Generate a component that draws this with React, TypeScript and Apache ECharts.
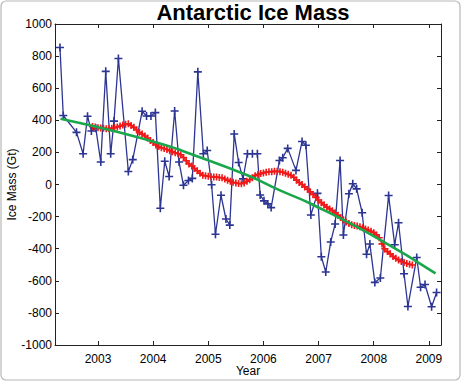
import React, { useEffect, useRef } from "react";
import * as echarts from "echarts";

const TITLE = "Antarctic Ice Mass";
const X_NAME = "Year";
const Y_NAME = "Ice Mass (Gt)";
const X_TICKS = [2003, 2004, 2005, 2006, 2007, 2008, 2009];

// GRACE monthly estimates (blue)
const blueYears = [
  2002.31, 2002.37, 2002.61, 2002.73, 2002.81, 2002.88, 2002.96, 2003.05, 2003.14, 2003.23,
  2003.29, 2003.37, 2003.55, 2003.63, 2003.80, 2003.88, 2003.96, 2004.04, 2004.13, 2004.21,
  2004.29, 2004.39, 2004.47, 2004.55, 2004.64, 2004.71, 2004.81, 2004.91, 2004.98, 2005.06,
  2005.13, 2005.23, 2005.32, 2005.39, 2005.47, 2005.55, 2005.63, 2005.71, 2005.80, 2005.89,
  2005.94, 2006.01, 2006.08, 2006.14, 2006.29, 2006.35, 2006.44, 2006.59, 2006.70, 2006.77,
  2006.86, 2006.98, 2007.05, 2007.13, 2007.22, 2007.30, 2007.39, 2007.45, 2007.55, 2007.62,
  2007.69, 2007.79, 2007.87, 2007.93, 2008.02, 2008.12, 2008.27, 2008.38, 2008.45, 2008.55,
  2008.62, 2008.78, 2008.85, 2008.93, 2009.05, 2009.14,
];
const blueMass = [
  854, 430, 325, 192, 425, 333, 350, 140, 705, 192,
  395, 785, 81, 155, 456, 427, 427, 448, -148, 145,
  50, 458, 140, -5, 25, 38, 702, 192, 212, -2,
  -310, -67, -215, -253, 315, 137, 35, 192, 192, 192,
  -65, -102, -121, -144, 150, 167, 225, 88, 268, 245,
  -190, -55, -450, -545, -358, -246, 150, -315, -58, 5,
  -27, -176, -435, -371, -610, -583, -69, -375, -238, -556,
  -760, -455, -640, -623, -762, -673,
];

// Smoothed series (red), sampled every 0.05 yr from 2002.90
const RED_START = 2002.9;
const RED_STEP = 0.05;
const redMass = [
  362, 358, 354, 352, 350, 348, 349, 351, 354, 358,
  364, 370, 376, 378, 368, 356, 340, 326, 314, 302,
  290, 274, 262, 246, 236, 229, 224, 218, 210, 204,
  198, 192, 185, 168, 148, 128, 116, 100, 86, 70,
  58, 54, 51, 49, 47, 46, 44, 42, 34, 27,
  20, 14, 9, 6, 5, 10, 20, 30, 42, 55,
  63, 68, 72, 77, 79, 80, 82, 82, 80, 76,
  70, 64, 57, 45, 27, 12, 0, -15, -30, -46,
  -62, -80, -97, -113, -127, -141, -152, -163, -177, -192,
  -206, -221, -233, -243, -250, -255, -259, -264, -270, -277,
  -284, -292, -300, -314, -332, -370, -400, -418, -432, -448,
  -460, -470, -479, -486, -492, -497, -502,
];

// Trend (green)
const greenYears = [2002.32, 2003.36, 2004.3, 2004.56, 2005.72, 2006.3, 2006.84, 2008.04, 2009.12];
const greenMass = [410, 327, 237, 206, 56, -37, -117, -329, -554];

const FONT = "'Liberation Sans', Arial, Helvetica, sans-serif";
const PLUS = "path://M0,5L10,5M5,0L5,10";

export default function App() {
  const ref = useRef<HTMLDivElement>(null);
  useEffect(() => {
    if (!ref.current) return;
    const chart = echarts.init(ref.current, undefined, { renderer: "svg" });
    const blue = blueYears.map((t, i) => [t, blueMass[i]]);
    const red = redMass.map((v, i) => [RED_START + i * RED_STEP, v]);
    const green = greenYears.map((t, i) => [t, greenMass[i]]);
    const xMin = 2002.22;
    const xMax = 2009.22;
    const axisLineStyle = { color: "#222", width: 1 };
    chart.setOption({
      animation: false,
      backgroundColor: "#fff",
      textStyle: { fontFamily: FONT },
      title: {
        text: TITLE,
        left: 248,
        textAlign: "center",
        top: -4,
        textStyle: { fontFamily: FONT, fontSize: 22, fontWeight: "bold", color: "#000" },
      },
      graphic: [
        {
          type: "rect",
          shape: { x: 1, y: 1, width: 459, height: 379, r: 5 },
          style: { fill: "none", stroke: "#b8b8b8", lineWidth: 1.2 },
          z: 100,
          silent: true,
        },
      ],
      grid: { left: 55, right: 21, top: 24, bottom: 37, containLabel: false, outerBoundsMode: "none" },
      xAxis: [
        {
          type: "value",
          min: xMin,
          max: xMax,
          name: X_NAME,
          nameLocation: "middle",
          nameGap: 20,
          nameMoveOverlap: false,
          nameTextStyle: { fontFamily: FONT, fontSize: 12, color: "#000" },
          axisLine: { show: true, onZero: false, lineStyle: axisLineStyle },
          axisTick: { show: true, inside: true, length: 4, customValues: X_TICKS, lineStyle: axisLineStyle },
          axisLabel: {
            show: true,
            customValues: X_TICKS,
            margin: 8,
            fontFamily: FONT,
            fontSize: 12,
            color: "#000",
            formatter: (v: number) => String(Math.round(v)),
          },
          splitLine: { show: false },
        },
        {
          type: "value",
          position: "top",
          min: xMin,
          max: xMax,
          axisLine: { show: true, onZero: false, lineStyle: axisLineStyle },
          axisTick: { show: true, inside: true, length: 4, customValues: X_TICKS, lineStyle: axisLineStyle },
          axisLabel: { show: false },
          splitLine: { show: false },
        },
      ],
      yAxis: [
        {
          type: "value",
          min: -1000,
          max: 1000,
          interval: 200,
          name: Y_NAME,
          nameLocation: "middle",
          nameGap: 37,
          nameMoveOverlap: false,
          nameTextStyle: { fontFamily: FONT, fontSize: 12, color: "#000" },
          axisLine: { show: true, onZero: false, lineStyle: axisLineStyle },
          axisTick: { show: true, inside: true, length: 4, lineStyle: axisLineStyle },
          axisLabel: {
            margin: 3,
            fontFamily: FONT,
            fontSize: 12,
            color: "#000",
            formatter: (v: number) => String(v),
          },
          splitLine: { show: false },
        },
        {
          type: "value",
          position: "right",
          min: -1000,
          max: 1000,
          interval: 200,
          axisLine: { show: true, onZero: false, lineStyle: axisLineStyle },
          axisTick: { show: true, inside: true, length: 4, lineStyle: axisLineStyle },
          axisLabel: { show: false },
          splitLine: { show: false },
        },
      ],
      series: [
        {
          name: "GRACE",
          type: "line",
          xAxisIndex: 0,
          yAxisIndex: 0,
          data: blue,
          symbol: PLUS,
          symbolSize: 8,
          showAllSymbol: true,
          lineStyle: { color: "#2d3592", width: 1.3 },
          itemStyle: { color: "#2d3592", borderColor: "#2d3592", borderWidth: 1.6 },
          z: 2,
        },
        {
          name: "Smoothed",
          type: "line",
          xAxisIndex: 0,
          yAxisIndex: 0,
          data: red,
          symbol: PLUS,
          symbolSize: 7,
          showAllSymbol: true,
          lineStyle: { color: "#f01818", width: 1.3 },
          itemStyle: { color: "#f01818", borderColor: "#f01818", borderWidth: 1.6 },
          z: 3,
        },
        {
          name: "Trend",
          type: "line",
          xAxisIndex: 0,
          yAxisIndex: 0,
          data: green,
          smooth: true,
          symbol: "none",
          lineStyle: { color: "#1aa64a", width: 2.6 },
          z: 4,
        },
      ],
    });
    return () => chart.dispose();
  }, []);
  return (
    <div
      ref={ref}
      style={{ position: "fixed", left: 0, top: 0, width: 462, height: 382, background: "#fff" }}
    />
  );
}
